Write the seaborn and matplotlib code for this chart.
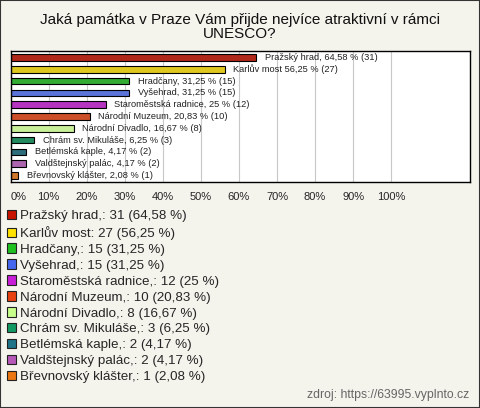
import numpy as np
import pandas as pd
import matplotlib
matplotlib.use("Agg")
import matplotlib.pyplot as plt
from matplotlib.patches import Patch, Rectangle
import seaborn as sns

# data
names = ["Pražský hrad,", "Karlův most", "Hradčany,", "Vyšehrad,", "Staroměstská radnice,",
         "Národní Muzeum,", "Národní Divadlo,", "Chrám sv. Mikuláše,", "Betlémská kaple,",
         "Valdštejnský palác,", "Břevnovský klášter,"]
counts = [31, 27, 15, 15, 12, 10, 8, 3, 2, 2, 1]
percents = [64.58, 56.25, 31.25, 31.25, 25, 20.83, 16.67, 6.25, 4.17, 4.17, 2.08]
colors = ["#c81400", "#ffe200", "#1fc01f", "#4567ee", "#c81ed8", "#e8400e",
          "#c8ff8a", "#129a62", "#1f7488", "#b659b9", "#ec7612"]
x_ticks = [0, 10, 20, 30, 40, 50, 60, 70, 80, 90, 100]
title = "Jaká památka v Praze Vám přijde nejvíce atraktivní v rámci\nUNESCO?"
source = "zdroj: https://63995.vyplnto.cz"

def fmt(p):
    return f"{p:g}".replace(".", ",")

sns.set_style("white")
plt.rcParams["font.family"] = ["Liberation Sans", "DejaVu Sans"]

bg = "#f4f3ec"
fig = plt.figure(figsize=(4.8, 4.08), dpi=100, facecolor=bg)
ax = fig.add_axes([10.5 / 480, 1 - 182 / 408, (470 - 10.5) / 480, (182 - 51) / 408])

df = pd.DataFrame({"name": names, "pct": percents})
sns.barplot(data=df, x="pct", y="name", hue="name", palette=colors, legend=False,
            width=0.55, edgecolor="black", linewidth=0.8, ax=ax, orient="h")

for i, (n, c, p) in enumerate(zip(names, counts, percents)):
    ax.text(p + 2.2, i, f"{n} {fmt(p)} % ({c})", fontsize=6.65, va="center", ha="left",
            color="#222222")

ax.set_xlim(0, 120.7)
ax.set_ylim(len(names) - 0.45, -0.55)
ax.set_xticks(x_ticks)
ax.set_xticklabels([f"{t}%" for t in x_ticks], fontsize=8)
ax.get_xticklabels()[0].set_horizontalalignment("left")
ax.tick_params(axis="x", length=0, pad=7)
ax.set_yticks([])
ax.set_xlabel("")
ax.set_ylabel("")
ax.set_facecolor("white")
ax.grid(axis="x", color="#c8c8c8", linewidth=0.8)
ax.set_axisbelow(True)
for s in ax.spines.values():
    s.set_color("black")
    s.set_linewidth(1)

fig.text(0.5, 1 - 27 / 408, title, ha="center", va="center", fontsize=11,
         color="#111111", linespacing=1.05)

handles = [Patch(facecolor=col, edgecolor="#222222", linewidth=0.8) for col in colors]
labels = [f"{n}: {c} ({fmt(p)} %)" for n, c, p in zip(names, counts, percents)]
fig.legend(handles, labels, loc="upper left", bbox_to_anchor=(7 / 480, 1 - 210 / 408),
           frameon=False, fontsize=9.6, handlelength=0.7, handleheight=0.7,
           handletextpad=0.25, labelspacing=0.27, borderpad=0, borderaxespad=0)

fig.text(469 / 480, 1 - 395 / 408, source, ha="right", va="center", fontsize=8.8,
         color="#666666")

fig.add_artist(Rectangle((0, 0), 1, 1, transform=fig.transFigure, fill=False,
                         edgecolor="#333333", linewidth=1.5))

fig.savefig("out.png", dpi=100, facecolor=bg)
